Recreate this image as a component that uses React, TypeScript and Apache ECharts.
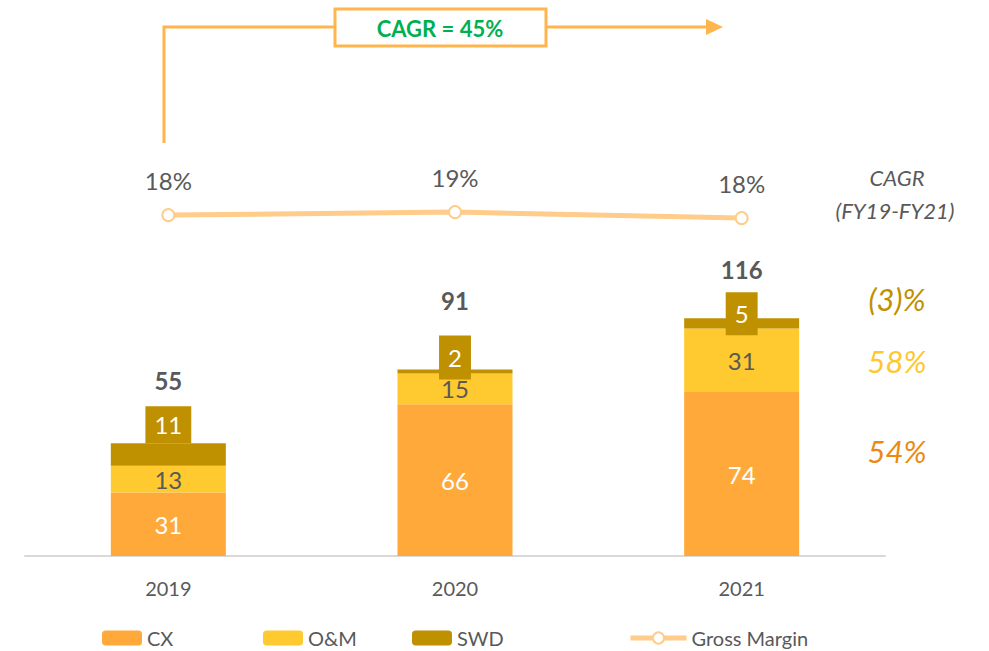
import React, { useEffect, useRef } from "react";
import * as echarts from "echarts";

const years = ["2019", "2020", "2021"];
// bar heights as drawn and the labels printed on them
const cxValues = [31, 74, 80];
const cxLabels = ["31", "66", "74"];
const omValues = [13, 15, 31];
const swdValues = [11, 2, 5];
const totals = [55, 91, 116];
const grossMargin = [18.2, 18.7, 17.7];
const cagrLabels = ["(3)%", "58%", "54%"];
const cagrTotal = "CAGR = 45%";

const FONT = "Lato, 'Open Sans', sans-serif";
const GRAY = "#595959";
const C_CX = "#FFA93B";
const C_OM = "#FFCA2F";
const C_SWD = "#BF9000";
const C_GM = "#FFCC8A";
const C_ARROW = "#FFB54D";

export default function App() {
  const ref = useRef<HTMLDivElement>(null);
  useEffect(() => {
    document.body.style.margin = "0";
    const chart = echarts.init(ref.current!, null, { renderer: "svg" });
    const swdOffsets = [0, 10, 17];
    const boxHeights = [37, 44, 43];
    const totalGaps = [52, 70, 46];
    const swdData = swdValues.map((v, i) => ({
      value: v,
      label: {
        show: true,
        position: "top",
        distance: 0,
        offset: [0, swdOffsets[i]],
        formatter: `{t|${totals[i]}}\n{b|${v}}`,
        rich: {
          t: {
            fontFamily: FONT,
            fontSize: 24,
            fontWeight: "bold",
            color: GRAY,
            lineHeight: totalGaps[i],
            align: "center",
          },
          b: {
            fontFamily: FONT,
            fontSize: 24,
            color: "#fff",
            backgroundColor: C_SWD,
            height: boxHeights[i],
            lineHeight: boxHeights[i],
            padding: [0, 9],
            align: "center",
          },
        },
      },
    }));

    const legendBase = {
      top: 628,
      padding: 0,
      itemWidth: 40,
      itemHeight: 15,
      itemGap: 5,
      textStyle: { fontFamily: FONT, fontSize: 20, color: GRAY },
    };

    chart.setOption({
      animation: false,
      textStyle: { fontFamily: FONT },
      grid: { left: 25, right: 104, top: 23, bottom: 95 },
      legend: [
        { ...legendBase, left: 102, data: ["CX"] },
        { ...legendBase, left: 263, data: ["O&M"] },
        { ...legendBase, left: 412, data: ["SWD"] },
        {
          ...legendBase,
          left: 628,
          itemWidth: 56,
          itemHeight: 14,
          lineStyle: { width: 5 },
          data: ["Gross Margin"],
        },
      ],
      xAxis: {
        type: "category",
        data: years,
        axisLine: { lineStyle: { color: "#D9D9D9", width: 2 } },
        axisTick: { show: false },
        axisLabel: { fontFamily: FONT, fontSize: 20, color: GRAY, margin: 22 },
      },
      yAxis: [
        { type: "value", min: 0, max: 260, show: false, splitLine: { show: false } },
        { type: "value", min: -38.6, max: 50.2, show: false, splitLine: { show: false } },
      ],
      series: [
        {
          name: "CX",
          type: "bar",
          stack: "a",
          barWidth: 115,
          data: cxValues,
          itemStyle: { color: C_CX },
          label: {
            show: true,
            position: "inside",
            color: "#fff",
            fontFamily: FONT,
            fontSize: 24,
            formatter: (p: any) => cxLabels[p.dataIndex],
          },
        },
        {
          name: "O&M",
          type: "bar",
          stack: "a",
          data: omValues,
          itemStyle: { color: C_OM },
          label: {
            show: true,
            position: "inside",
            color: GRAY,
            fontFamily: FONT,
            fontSize: 24,
          },
        },
        {
          name: "SWD",
          type: "bar",
          stack: "a",
          data: swdData,
          itemStyle: { color: C_SWD },
        },
        {
          name: "Gross Margin",
          type: "line",
          yAxisIndex: 1,
          data: grossMargin,
          symbol: "circle",
          symbolSize: 12,
          lineStyle: { color: C_GM, width: 5 },
          itemStyle: { color: "#fff", borderColor: C_GM, borderWidth: 2 },
          label: {
            show: true,
            position: "top",
            distance: 16,
            color: GRAY,
            fontFamily: FONT,
            fontSize: 24,
            formatter: (p: any) => `${Math.round(p.value)}%`,
          },
        },
      ],
      graphic: [
        {
          type: "polyline",
          shape: { points: [[164, 143], [164, 27], [335, 27]] },
          style: { stroke: C_ARROW, lineWidth: 3, fill: "none" },
        },
        {
          type: "line",
          shape: { x1: 546, y1: 27, x2: 708, y2: 27 },
          style: { stroke: C_ARROW, lineWidth: 3 },
        },
        {
          type: "polygon",
          shape: { points: [[706, 19], [723, 27], [706, 35]] },
          style: { fill: C_ARROW },
        },
        {
          type: "rect",
          shape: { x: 335, y: 9, width: 211, height: 37 },
          style: { fill: "#fff", stroke: C_ARROW, lineWidth: 3 },
        },
        {
          type: "text",
          style: {
            text: cagrTotal,
            x: 440,
            y: 28,
            align: "center",
            verticalAlign: "middle",
            fill: "#00B050",
            font: `bold 22px ${FONT}`,
          },
        },
        {
          type: "text",
          style: {
            text: "CAGR",
            x: 897,
            y: 177,
            align: "center",
            verticalAlign: "middle",
            fill: GRAY,
            font: `italic 22px ${FONT}`,
          },
        },
        {
          type: "text",
          style: {
            text: "(FY19-FY21)",
            x: 895,
            y: 210,
            align: "center",
            verticalAlign: "middle",
            fill: GRAY,
            font: `italic 22px ${FONT}`,
          },
        },
        {
          type: "text",
          style: {
            text: cagrLabels[0],
            x: 897,
            y: 299,
            align: "center",
            verticalAlign: "middle",
            fill: C_SWD,
            font: `italic 31px ${FONT}`,
          },
        },
        {
          type: "text",
          style: {
            text: cagrLabels[1],
            x: 897,
            y: 361,
            align: "center",
            verticalAlign: "middle",
            fill: "#FFC72C",
            font: `italic 31px ${FONT}`,
          },
        },
        {
          type: "text",
          style: {
            text: cagrLabels[2],
            x: 897,
            y: 451,
            align: "center",
            verticalAlign: "middle",
            fill: "#EC8A0F",
            font: `italic 31px ${FONT}`,
          },
        },
      ],
    });
    return () => chart.dispose();
  }, []);
  return <div ref={ref} style={{ width: 989, height: 651 }} />;
}
